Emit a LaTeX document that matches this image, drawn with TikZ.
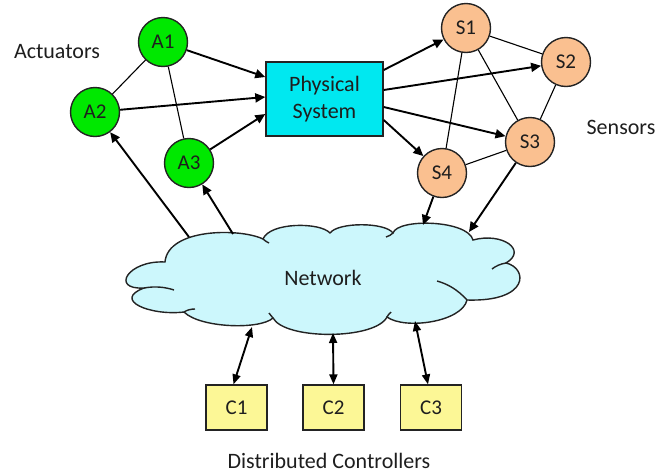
\documentclass[tikz,border=0pt]{standalone}
\usepackage{fontspec}
\setmainfont{Carlito}
\usetikzlibrary{arrows.meta}
\definecolor{actgreen}{RGB}{0,232,0}
\definecolor{syscyan}{RGB}{0,232,240}
\definecolor{senpeach}{RGB}{250,192,144}
\definecolor{cloudfill}{RGB}{204,247,252}
\definecolor{ctrlyellow}{RGB}{252,247,150}
\definecolor{outl}{RGB}{35,35,35}
\definecolor{txt}{RGB}{30,30,30}
\begin{document}
\begin{tikzpicture}[x=1pt,y=-1pt,
  font=\fontsize{21}{26}\selectfont,
  act/.style={circle, draw=outl, line width=1.4pt, fill=actgreen, minimum size=49pt, inner sep=0pt, text=txt},
  sen/.style={circle, draw=outl, line width=1.4pt, fill=senpeach, minimum size=49pt, inner sep=0pt, text=txt},
  sysbox/.style={draw=outl, line width=1.4pt, fill=syscyan, minimum width=117pt, minimum height=74pt, inner sep=0pt, align=center, text=txt, font=\fontsize{22}{27}\selectfont},
  ctrl/.style={draw=outl, line width=1.3pt, fill=ctrlyellow, minimum width=61pt, minimum height=45pt, inner sep=0pt, text=txt},
  arr/.style={draw=black, line width=1.9pt, -{Triangle[length=10pt,width=9pt]}},
  dbl/.style={draw=black, line width=1.9pt, {Triangle[length=10pt,width=8pt]}-{Triangle[length=10pt,width=8pt]}},
  link/.style={draw=black, line width=1.1pt},
  lbl/.style={text=txt, inner sep=0pt, font=\fontsize{22}{27}\selectfont},
  cloudline/.style={draw=outl, line width=1.4pt}
]
\useasboundingbox (0,0) rectangle (659,472);

% cloud
\draw[cloudline, fill=cloudfill]
  (165,262) .. controls (168,228) and (240,228) .. (263,239)
  .. controls (270,222) and (320,222) .. (330,233)
  .. controls (338,222) and (385,222) .. (393,233)
  .. controls (398,218) and (468,220) .. (473,240)
  .. controls (502,232) and (528,250) .. (506,263)
  .. controls (528,268) and (530,302) .. (467,300)
  .. controls (462,322) and (405,330) .. (387,317)
  .. controls (375,340) and (285,340) .. (273,318)
  .. controls (260,330) and (200,328) .. (184,312)
  .. controls (150,316) and (112,300) .. (144,288)
  .. controls (110,290) and (128,260) .. cycle;
\draw[cloudline] (144,288) .. controls (155,286) and (165,287) .. (174,290);
\draw[cloudline] (184,312) .. controls (187,310) and (191,309) .. (195,309);
\draw[cloudline] (506,263) .. controls (500,264) and (496,266) .. (492,269);
\draw[cloudline] (467,300) .. controls (458,290) and (448,284) .. (437,281);
\draw[cloudline] (263,239) .. controls (265,241) and (267,242) .. (269,243);
\draw[cloudline] (393,233) .. controls (391,235) and (389,236) .. (386,237);
\draw[cloudline] (387,317) .. controls (388,315) and (389,314) .. (391,312);
\draw[cloudline] (273,318) .. controls (271,316) and (270,314) .. (269,313);
\node[lbl] (net) at (323,278) {Network};

% nodes
\node[act] (A1) at (163,42) {A1};
\node[act] (A2) at (95,112) {A2};
\node[act] (A3) at (189,163) {A3};
\node[sysbox] (PS) at (324.5,99) {Physical\\System};
\node[sen] (S1) at (466,28) {S1};
\node[sen] (S2) at (566,62) {S2};
\node[sen] (S3) at (530,142) {S3};
\node[sen] (S4) at (442,173) {S4};
\node[ctrl] (C1) at (236.5,407.5) {C1};
\node[ctrl] (C2) at (333.5,407.5) {C2};
\node[ctrl] (C3) at (431,407.5) {C3};

\node[lbl] (lact) at (57,52) {Actuators};
\node[lbl] (lsen) at (621,127) {Sensors};
\node[lbl, anchor=base] (lctrl) at (329,468) {Distributed Controllers};

% cloud attachment points
\coordinate (n1) at (189,237);
\coordinate (n2) at (233,234);
\coordinate (n3) at (423,225);
\coordinate (n4) at (469,232);
\coordinate (b1) at (252,327);
\coordinate (b2) at (333,333);
\coordinate (b3) at (415,321);

% plain links
\draw[link] (A1) -- (A2);
\draw[link] (A1) -- (A3);
\draw[link] (S1) -- (S2);
\draw[link] (S1) -- (S3);
\draw[link] (S1) -- (S4);
\draw[link] (S2) -- (S3);
\draw[link] (S3) -- (S4);

% actuators to system
\draw[arr] (A1) -- ([yshift=22pt]PS.west);
\draw[arr] (A2) -- ([yshift=2pt]PS.west);
\draw[arr] (A3) -- ([yshift=-15pt]PS.west);
% system to sensors
\draw[arr] ([yshift=29pt]PS.east) -- (S1);
\draw[arr] ([yshift=9pt]PS.east) -- (S2);
\draw[arr] ([yshift=-8pt]PS.east) -- (S3);
\draw[arr] ([yshift=-21pt]PS.east) -- (S4);
% network
\draw[arr] (n1) -- (A2);
\draw[arr] (n2) -- (A3);
\draw[arr] (S4) -- (n3);
\draw[arr] (S3) -- (n4);
\draw[dbl] ([xshift=-3pt]C1.north) -- (b1);
\draw[dbl] (C2.north) -- (b2);
\draw[dbl] ([xshift=-3pt]C3.north) -- (b3);
\end{tikzpicture}
\end{document}
